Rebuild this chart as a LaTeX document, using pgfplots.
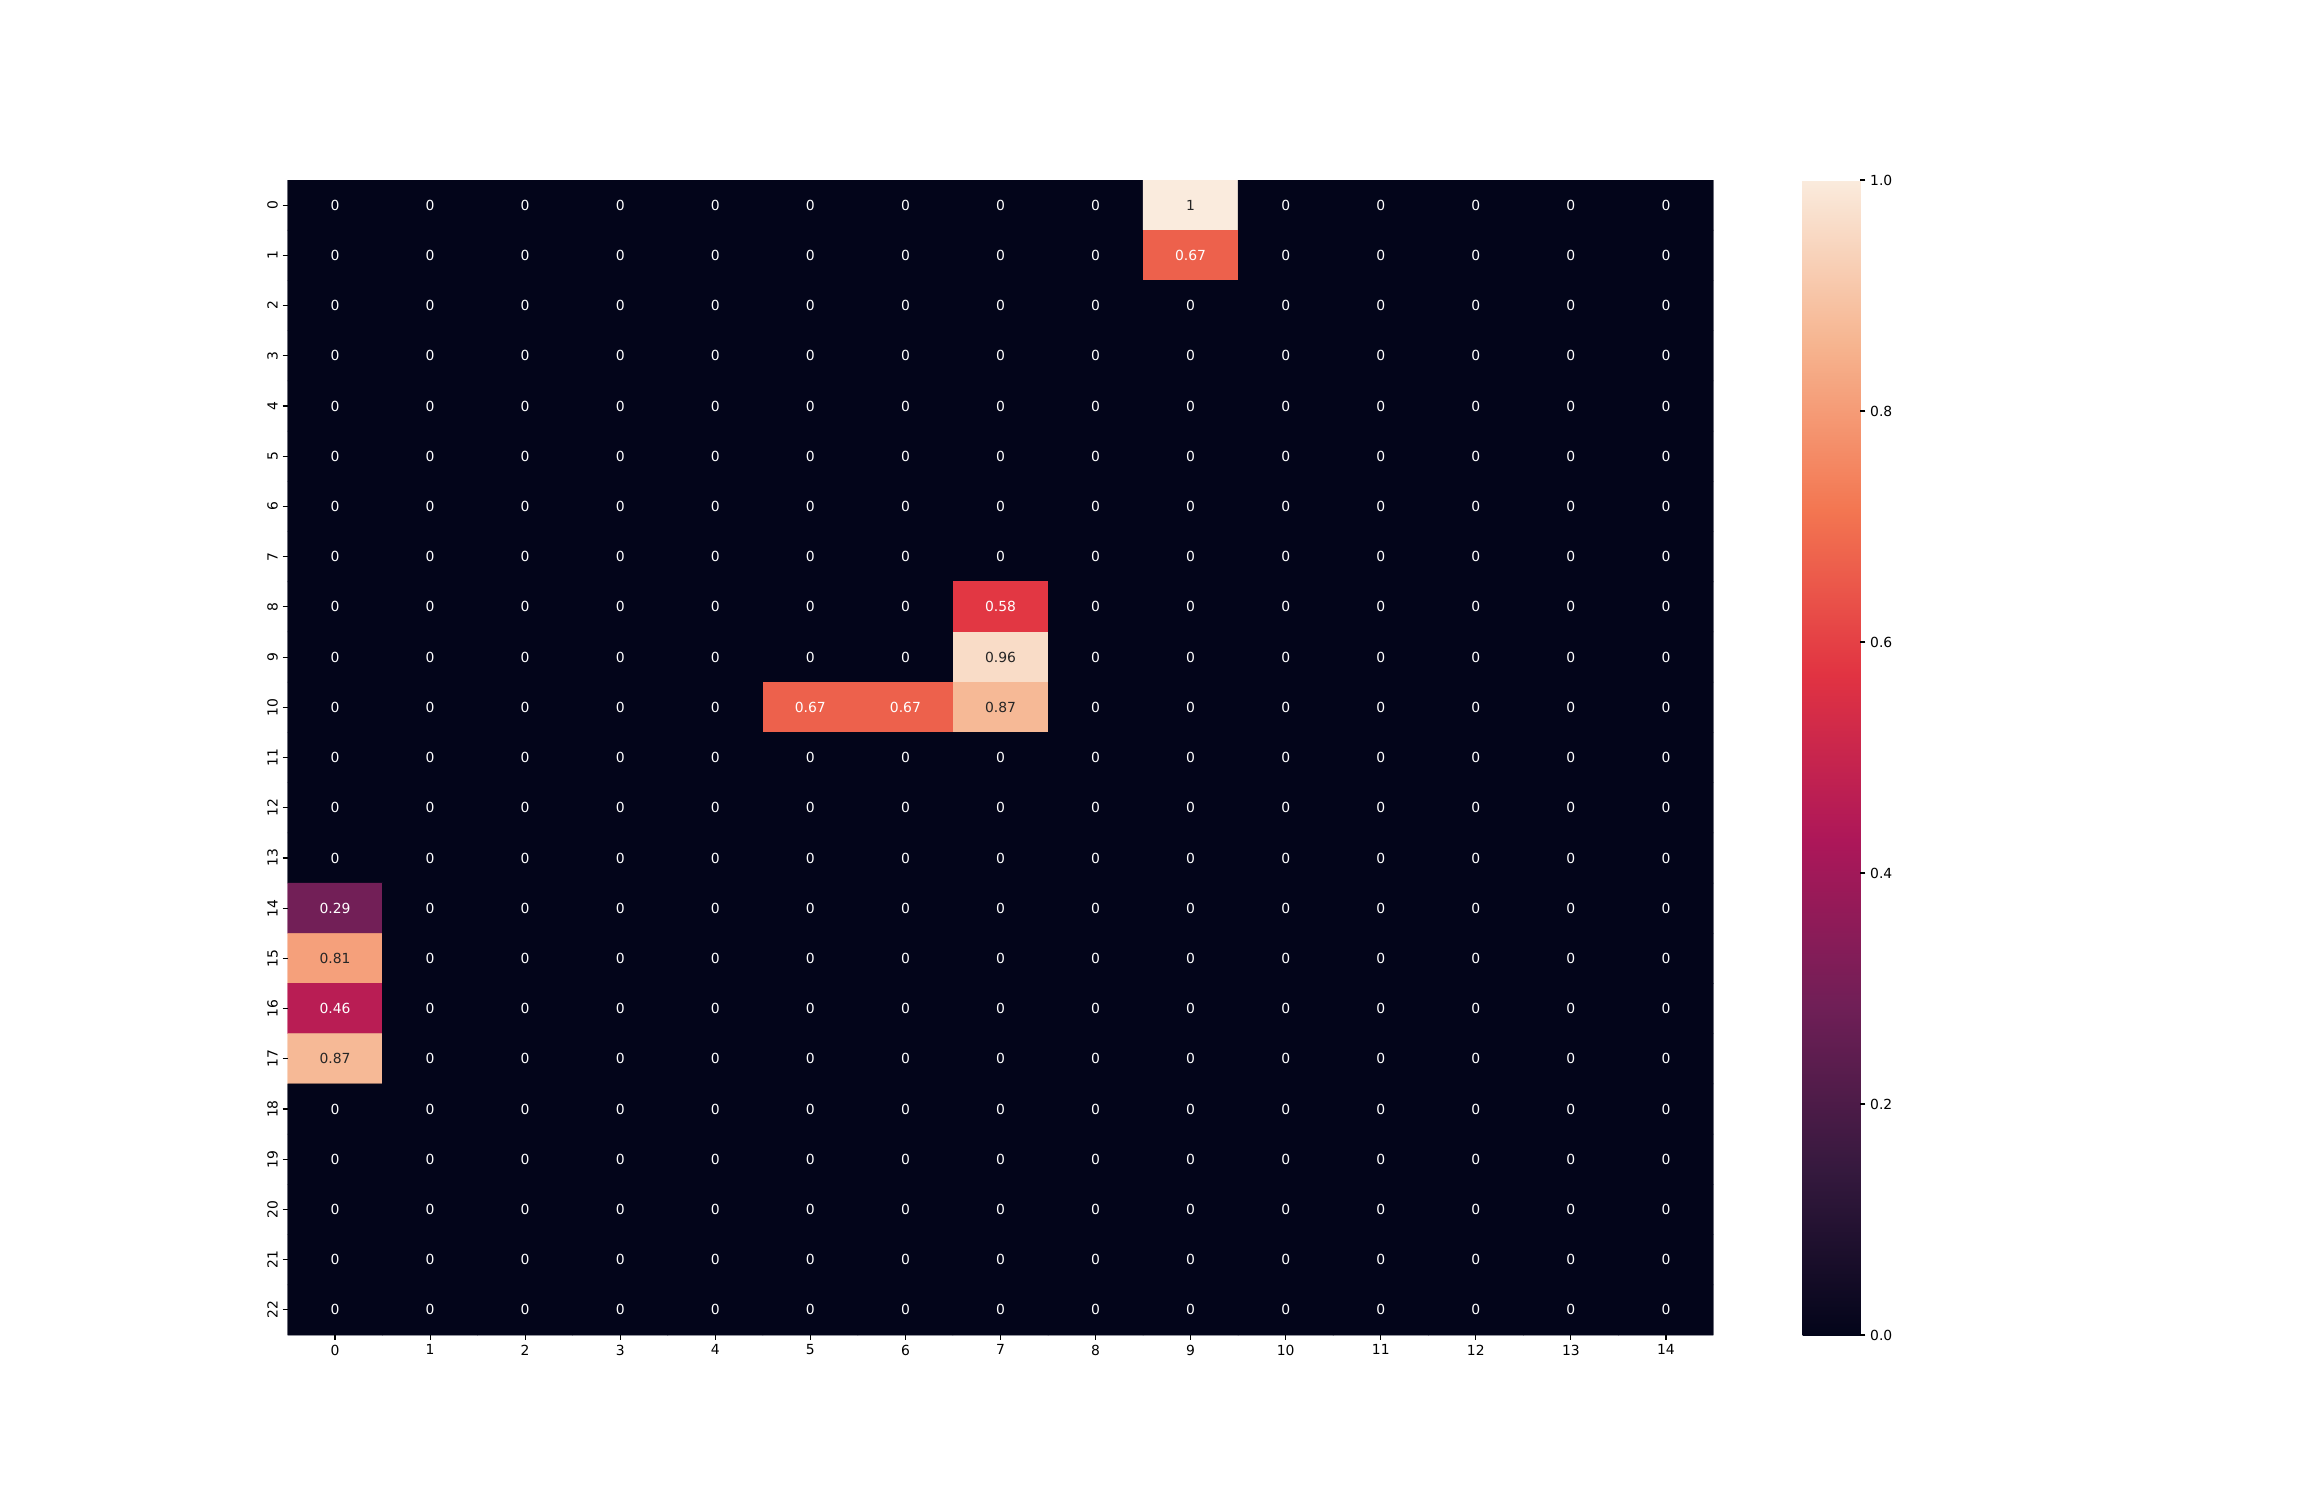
\documentclass[border=0pt]{standalone}
\usepackage{pgfplots}
\usepackage{pgfplotstable}
\usepackage{fontspec}
\setmainfont{DejaVu Sans}
\pgfplotsset{compat=1.18}
\definecolor{dtext}{gray}{0.15}
\definecolor{rocketzero}{RGB}{3,5,26}
\pgfplotstableread[row sep=\\]{
x y v dk\\
0 0 0 0\\ 1 0 0 0\\ 2 0 0 0\\ 3 0 0 0\\ 4 0 0 0\\ 5 0 0 0\\ 6 0 0 0\\ 7 0 0 0\\ 8 0 0 0\\ 9 0 1 1\\ 10 0 0 0\\ 11 0 0 0\\ 12 0 0 0\\ 13 0 0 0\\ 14 0 0 0\\
0 1 0 0\\ 1 1 0 0\\ 2 1 0 0\\ 3 1 0 0\\ 4 1 0 0\\ 5 1 0 0\\ 6 1 0 0\\ 7 1 0 0\\ 8 1 0 0\\ 9 1 0.67 0\\ 10 1 0 0\\ 11 1 0 0\\ 12 1 0 0\\ 13 1 0 0\\ 14 1 0 0\\
0 2 0 0\\ 1 2 0 0\\ 2 2 0 0\\ 3 2 0 0\\ 4 2 0 0\\ 5 2 0 0\\ 6 2 0 0\\ 7 2 0 0\\ 8 2 0 0\\ 9 2 0 0\\ 10 2 0 0\\ 11 2 0 0\\ 12 2 0 0\\ 13 2 0 0\\ 14 2 0 0\\
0 3 0 0\\ 1 3 0 0\\ 2 3 0 0\\ 3 3 0 0\\ 4 3 0 0\\ 5 3 0 0\\ 6 3 0 0\\ 7 3 0 0\\ 8 3 0 0\\ 9 3 0 0\\ 10 3 0 0\\ 11 3 0 0\\ 12 3 0 0\\ 13 3 0 0\\ 14 3 0 0\\
0 4 0 0\\ 1 4 0 0\\ 2 4 0 0\\ 3 4 0 0\\ 4 4 0 0\\ 5 4 0 0\\ 6 4 0 0\\ 7 4 0 0\\ 8 4 0 0\\ 9 4 0 0\\ 10 4 0 0\\ 11 4 0 0\\ 12 4 0 0\\ 13 4 0 0\\ 14 4 0 0\\
0 5 0 0\\ 1 5 0 0\\ 2 5 0 0\\ 3 5 0 0\\ 4 5 0 0\\ 5 5 0 0\\ 6 5 0 0\\ 7 5 0 0\\ 8 5 0 0\\ 9 5 0 0\\ 10 5 0 0\\ 11 5 0 0\\ 12 5 0 0\\ 13 5 0 0\\ 14 5 0 0\\
0 6 0 0\\ 1 6 0 0\\ 2 6 0 0\\ 3 6 0 0\\ 4 6 0 0\\ 5 6 0 0\\ 6 6 0 0\\ 7 6 0 0\\ 8 6 0 0\\ 9 6 0 0\\ 10 6 0 0\\ 11 6 0 0\\ 12 6 0 0\\ 13 6 0 0\\ 14 6 0 0\\
0 7 0 0\\ 1 7 0 0\\ 2 7 0 0\\ 3 7 0 0\\ 4 7 0 0\\ 5 7 0 0\\ 6 7 0 0\\ 7 7 0 0\\ 8 7 0 0\\ 9 7 0 0\\ 10 7 0 0\\ 11 7 0 0\\ 12 7 0 0\\ 13 7 0 0\\ 14 7 0 0\\
0 8 0 0\\ 1 8 0 0\\ 2 8 0 0\\ 3 8 0 0\\ 4 8 0 0\\ 5 8 0 0\\ 6 8 0 0\\ 7 8 0.58 0\\ 8 8 0 0\\ 9 8 0 0\\ 10 8 0 0\\ 11 8 0 0\\ 12 8 0 0\\ 13 8 0 0\\ 14 8 0 0\\
0 9 0 0\\ 1 9 0 0\\ 2 9 0 0\\ 3 9 0 0\\ 4 9 0 0\\ 5 9 0 0\\ 6 9 0 0\\ 7 9 0.96 1\\ 8 9 0 0\\ 9 9 0 0\\ 10 9 0 0\\ 11 9 0 0\\ 12 9 0 0\\ 13 9 0 0\\ 14 9 0 0\\
0 10 0 0\\ 1 10 0 0\\ 2 10 0 0\\ 3 10 0 0\\ 4 10 0 0\\ 5 10 0.67 0\\ 6 10 0.67 0\\ 7 10 0.87 1\\ 8 10 0 0\\ 9 10 0 0\\ 10 10 0 0\\ 11 10 0 0\\ 12 10 0 0\\ 13 10 0 0\\ 14 10 0 0\\
0 11 0 0\\ 1 11 0 0\\ 2 11 0 0\\ 3 11 0 0\\ 4 11 0 0\\ 5 11 0 0\\ 6 11 0 0\\ 7 11 0 0\\ 8 11 0 0\\ 9 11 0 0\\ 10 11 0 0\\ 11 11 0 0\\ 12 11 0 0\\ 13 11 0 0\\ 14 11 0 0\\
0 12 0 0\\ 1 12 0 0\\ 2 12 0 0\\ 3 12 0 0\\ 4 12 0 0\\ 5 12 0 0\\ 6 12 0 0\\ 7 12 0 0\\ 8 12 0 0\\ 9 12 0 0\\ 10 12 0 0\\ 11 12 0 0\\ 12 12 0 0\\ 13 12 0 0\\ 14 12 0 0\\
0 13 0 0\\ 1 13 0 0\\ 2 13 0 0\\ 3 13 0 0\\ 4 13 0 0\\ 5 13 0 0\\ 6 13 0 0\\ 7 13 0 0\\ 8 13 0 0\\ 9 13 0 0\\ 10 13 0 0\\ 11 13 0 0\\ 12 13 0 0\\ 13 13 0 0\\ 14 13 0 0\\
0 14 0.29 0\\ 1 14 0 0\\ 2 14 0 0\\ 3 14 0 0\\ 4 14 0 0\\ 5 14 0 0\\ 6 14 0 0\\ 7 14 0 0\\ 8 14 0 0\\ 9 14 0 0\\ 10 14 0 0\\ 11 14 0 0\\ 12 14 0 0\\ 13 14 0 0\\ 14 14 0 0\\
0 15 0.81 1\\ 1 15 0 0\\ 2 15 0 0\\ 3 15 0 0\\ 4 15 0 0\\ 5 15 0 0\\ 6 15 0 0\\ 7 15 0 0\\ 8 15 0 0\\ 9 15 0 0\\ 10 15 0 0\\ 11 15 0 0\\ 12 15 0 0\\ 13 15 0 0\\ 14 15 0 0\\
0 16 0.46 0\\ 1 16 0 0\\ 2 16 0 0\\ 3 16 0 0\\ 4 16 0 0\\ 5 16 0 0\\ 6 16 0 0\\ 7 16 0 0\\ 8 16 0 0\\ 9 16 0 0\\ 10 16 0 0\\ 11 16 0 0\\ 12 16 0 0\\ 13 16 0 0\\ 14 16 0 0\\
0 17 0.87 1\\ 1 17 0 0\\ 2 17 0 0\\ 3 17 0 0\\ 4 17 0 0\\ 5 17 0 0\\ 6 17 0 0\\ 7 17 0 0\\ 8 17 0 0\\ 9 17 0 0\\ 10 17 0 0\\ 11 17 0 0\\ 12 17 0 0\\ 13 17 0 0\\ 14 17 0 0\\
0 18 0 0\\ 1 18 0 0\\ 2 18 0 0\\ 3 18 0 0\\ 4 18 0 0\\ 5 18 0 0\\ 6 18 0 0\\ 7 18 0 0\\ 8 18 0 0\\ 9 18 0 0\\ 10 18 0 0\\ 11 18 0 0\\ 12 18 0 0\\ 13 18 0 0\\ 14 18 0 0\\
0 19 0 0\\ 1 19 0 0\\ 2 19 0 0\\ 3 19 0 0\\ 4 19 0 0\\ 5 19 0 0\\ 6 19 0 0\\ 7 19 0 0\\ 8 19 0 0\\ 9 19 0 0\\ 10 19 0 0\\ 11 19 0 0\\ 12 19 0 0\\ 13 19 0 0\\ 14 19 0 0\\
0 20 0 0\\ 1 20 0 0\\ 2 20 0 0\\ 3 20 0 0\\ 4 20 0 0\\ 5 20 0 0\\ 6 20 0 0\\ 7 20 0 0\\ 8 20 0 0\\ 9 20 0 0\\ 10 20 0 0\\ 11 20 0 0\\ 12 20 0 0\\ 13 20 0 0\\ 14 20 0 0\\
0 21 0 0\\ 1 21 0 0\\ 2 21 0 0\\ 3 21 0 0\\ 4 21 0 0\\ 5 21 0 0\\ 6 21 0 0\\ 7 21 0 0\\ 8 21 0 0\\ 9 21 0 0\\ 10 21 0 0\\ 11 21 0 0\\ 12 21 0 0\\ 13 21 0 0\\ 14 21 0 0\\
0 22 0 0\\ 1 22 0 0\\ 2 22 0 0\\ 3 22 0 0\\ 4 22 0 0\\ 5 22 0 0\\ 6 22 0 0\\ 7 22 0 0\\ 8 22 0 0\\ 9 22 0 0\\ 10 22 0 0\\ 11 22 0 0\\ 12 22 0 0\\ 13 22 0 0\\ 14 22 0 0\\
}\heat
\begin{document}
\begin{tikzpicture}
\path[fill=white] (0,0) rectangle (1656pt,1080pt);
\begin{axis}[
  at={(207pt,118.8pt)}, anchor=south west,
  scale only axis, width=1026.7pt, height=831.6pt,
  xmin=-0.5, xmax=14.5, ymin=-0.5, ymax=22.5,
  y dir=reverse, enlargelimits=false,
  axis line style={draw=none},
  axis background/.style={fill=rocketzero},
  xtick={0,...,14}, ytick={0,...,22},
  tick align=outside, tick pos=left,
  major tick length=3.5pt,
  every tick/.style={black, line width=0.8pt},
  tick label style={font=\fontsize{10}{12}\selectfont},
  /pgf/number format/assume math mode=true,
  yticklabel style={rotate=90, anchor=south},
  colormap={rocket}{rgb255=(3,5,26) rgb255=(53,25,62) rgb255=(112,31,87) rgb255=(173,23,89) rgb255=(225,51,66) rgb255=(243,118,81) rgb255=(246,180,143) rgb255=(250,235,221)},
  point meta min=0, point meta max=1,
  colorbar right,
  colorbar/width=41.6pt,
  colorbar style={
    axis line style={draw=none},
    ytick={0,0.2,0.4,0.6,0.8,1},
    ytick pos=right, yticklabel pos=right,
    yticklabel style={/pgf/number format/.cd, fixed, fixed zerofill, precision=1, /tikz/.cd, font=\fontsize{10}{12}\selectfont, anchor=west},
    /pgf/number format/assume math mode=true,
    major tick length=3.5pt,
    tick align=outside,
    every tick/.style={black, line width=0.8pt},
  },
  colorbar shift/.style={xshift=64.2pt},
]
\addplot[matrix plot, mesh/cols=15, mesh/rows=23, point meta=explicit, shader=flat corner] table[x=x, y=y, meta=v] {\heat};
\addplot[only marks, mark=none, point meta=explicit symbolic,
  visualization depends on={\thisrow{dk} \as \dk},
  nodes near coords={\ifdim\dk pt>0.5pt \color{dtext}\else\color{white}\fi\pgfplotspointmeta},
  nodes near coords align={center},
  every node near coord/.append style={font=\fontsize{10}{12}\selectfont, anchor=center, inner sep=0pt}]
  table[x=x, y=y, meta=v] {\heat};
\end{axis}
\useasboundingbox (0,0) rectangle (1656pt,1080pt);
\end{tikzpicture}
\end{document}
